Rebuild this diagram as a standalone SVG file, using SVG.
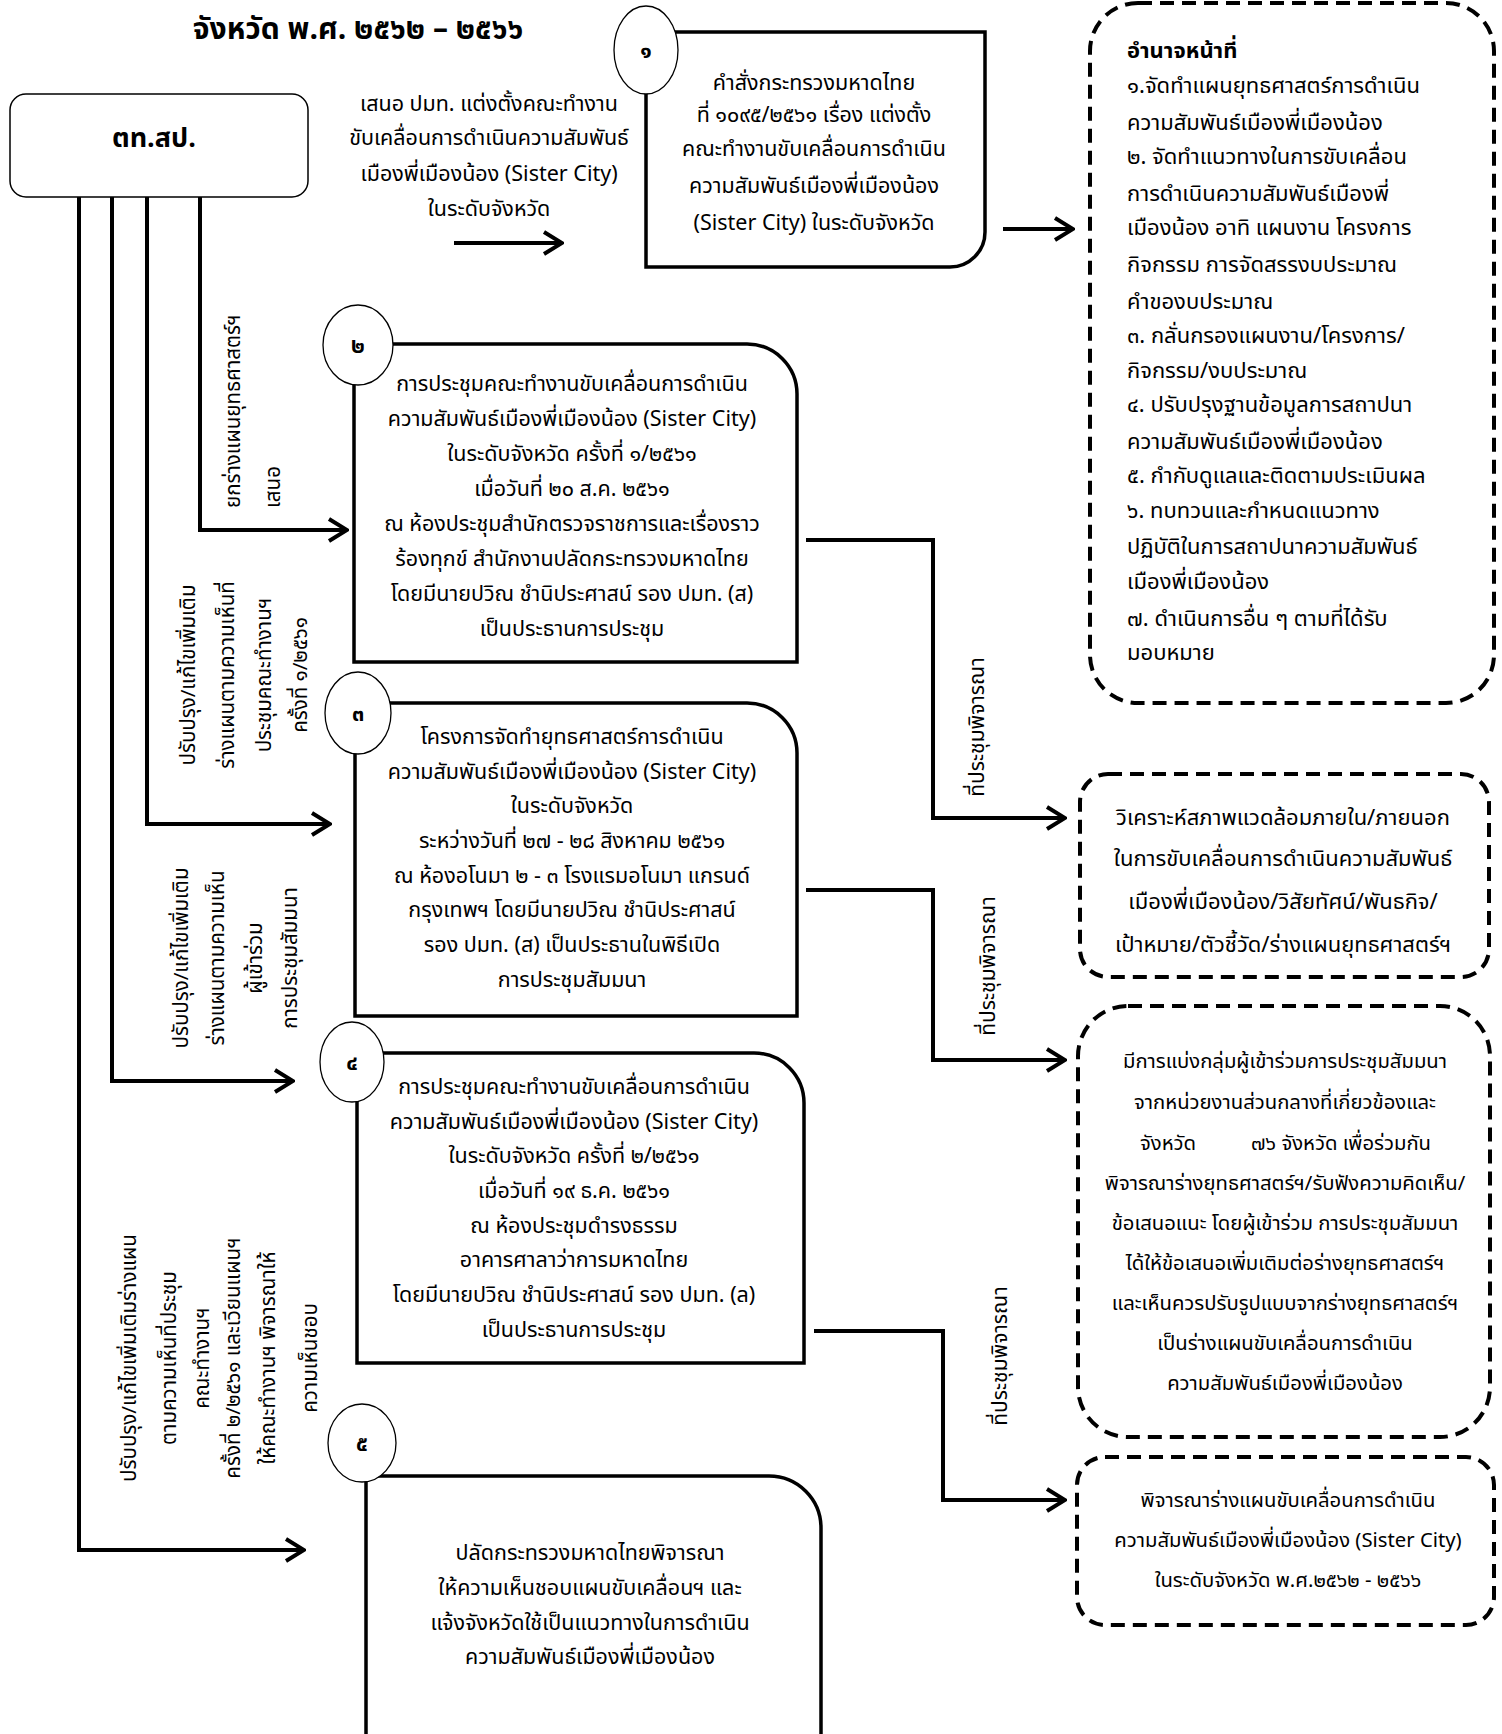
<svg xmlns="http://www.w3.org/2000/svg" width="1502" height="1734" viewBox="0 0 1502 1734">
<style>
.t{font-family:"Noto Sans Thai","Noto Sans","DejaVu Sans",sans-serif;font-size:21.5px;fill:#000}
.s{font-size:20.5px}
.r{font-size:22px}
.q{font-size:20.3px}
.c{text-anchor:middle}
.b{font-weight:bold}
.box{fill:#fff;stroke:#000;stroke-width:3.5}
.thin{fill:#fff;stroke:#000;stroke-width:1.5}
.dash{fill:#fff;stroke:#000;stroke-width:4;stroke-dasharray:14 8}
.circ{fill:#fff;stroke:#000;stroke-width:1.3}
.conn{fill:none;stroke:#000;stroke-width:4;marker-end:url(#ah)}
</style>
<defs>
<marker id="ah" viewBox="0 0 22 26" refX="20" refY="13" markerWidth="22" markerHeight="26" markerUnits="userSpaceOnUse" orient="auto">
<path d="M2,2 L20,13 L2,24" fill="none" stroke="#000" stroke-width="4"/>
</marker>
</defs>
<rect width="1502" height="1734" fill="#fff"/>

<text id="title" class="t b c" x="358" y="39" style="font-size:30px">จังหวัด พ.ศ. ๒๕๖๒ – ๒๕๖๖</text>

<g id="connectors">
<path class="conn" d="M454,243 H562"/>
<path class="conn" d="M1003,229 H1073"/>
<path class="conn" d="M200,197 V530 H347"/>
<path class="conn" d="M147,197 V824 H330"/>
<path class="conn" d="M112,197 V1081 H293"/>
<path class="conn" d="M79,197 V1550 H304"/>
<path class="conn" d="M806,540 H933 V818 H1065"/>
<path class="conn" d="M806,890 H933 V1060 H1065"/>
<path class="conn" d="M814,1331 H943 V1500 H1065"/>
</g>

<g id="labels">
<g class="t c">
<text x="489" y="111">เสนอ ปมท. แต่งตั้งคณะทำงาน</text>
<text x="489" y="145">ขับเคลื่อนการดำเนินความสัมพันธ์</text>
<text x="489" y="181">เมืองพี่เมืองน้อง (Sister City)</text>
<text x="489" y="216">ในระดับจังหวัด</text>
</g>
<g class="t s">
<text transform="translate(240,508) rotate(-90)">ยกร่างแผนยุทธศาสตร์ฯ</text>
<text transform="translate(280,508) rotate(-90)">เสนอ</text>
</g>
<g class="t s c">
<text transform="translate(195,675) rotate(-90)">ปรับปรุง/แก้ไขเพิ่มเติม</text>
<text transform="translate(234,675) rotate(-90)">ร่างแผนตามความเห็นที่</text>
<text transform="translate(271,675) rotate(-90)">ประชุมคณะทำงานฯ</text>
<text transform="translate(307,675) rotate(-90)">ครั้งที่ ๑/๒๕๖๑</text>
</g>
<g class="t s c">
<text transform="translate(188,958) rotate(-90)">ปรับปรุง/แก้ไขเพิ่มเติม</text>
<text transform="translate(224,958) rotate(-90)">ร่างแผนตามความเห็น</text>
<text transform="translate(262,958) rotate(-90)">ผู้เข้าร่วม</text>
<text transform="translate(297,958) rotate(-90)">การประชุมสัมมนา</text>
</g>
<g class="t s c">
<text transform="translate(136,1358) rotate(-90)">ปรับปรุง/แก้ไขเพิ่มเติมร่างแผน</text>
<text transform="translate(176,1358) rotate(-90)">ตามความเห็นที่ประชุม</text>
<text transform="translate(209,1358) rotate(-90)">คณะทำงานฯ</text>
<text transform="translate(240,1358) rotate(-90)">ครั้งที่ ๒/๒๕๖๑ และเวียนแผนฯ</text>
<text transform="translate(275,1358) rotate(-90)">ให้คณะทำงานฯ พิจารณาให้</text>
<text transform="translate(317,1358) rotate(-90)">ความเห็นชอบ</text>
</g>
<g class="t c" style="font-size:21px">
<text transform="translate(984,727) rotate(-90)">ที่ประชุมพิจารณา</text>
<text transform="translate(995,966) rotate(-90)">ที่ประชุมพิจารณา</text>
<text transform="translate(1007,1356) rotate(-90)">ที่ประชุมพิจารณา</text>
</g>
</g>

<g id="node-ttsp">
<rect class="thin" x="10" y="94" width="298" height="103" rx="16"/>
<text class="t b c" x="154" y="147" style="font-size:27px">ตท.สป.</text>
</g>

<g id="node-1">
<path class="box" d="M646,32 H985 V232 A35,35 0 0 1 950,267 H646 Z"/>
<ellipse class="circ" cx="646" cy="50" rx="32" ry="44"/>
<text class="t b c" x="646" y="58">๑</text>
<g class="t c">
<text x="814" y="90">คำสั่งกระทรวงมหาดไทย</text>
<text x="814" y="122">ที่ ๑๐๙๕/๒๕๖๑ เรื่อง แต่งตั้ง</text>
<text x="814" y="156">คณะทำงานขับเคลื่อนการดำเนิน</text>
<text x="814" y="193">ความสัมพันธ์เมืองพี่เมืองน้อง</text>
<text x="814" y="230">(Sister City) ในระดับจังหวัด</text>
</g>
</g>

<g id="node-duties">
<rect class="dash" x="1090" y="3" width="404" height="700" rx="48"/>
<g class="t r">
<text class="b" x="1127" y="58">อำนาจหน้าที่</text>
<text x="1127" y="93">๑.จัดทำแผนยุทธศาสตร์การดำเนิน</text>
<text x="1127" y="130">ความสัมพันธ์เมืองพี่เมืองน้อง</text>
<text x="1127" y="164">๒. จัดทำแนวทางในการขับเคลื่อน</text>
<text x="1127" y="201">การดำเนินความสัมพันธ์เมืองพี่</text>
<text x="1127" y="235">เมืองน้อง อาทิ แผนงาน โครงการ</text>
<text x="1127" y="272">กิจกรรม การจัดสรรงบประมาณ</text>
<text x="1127" y="309">คำของบประมาณ</text>
<text x="1127" y="343">๓. กลั่นกรองแผนงาน/โครงการ/</text>
<text x="1127" y="378">กิจกรรม/งบประมาณ</text>
<text x="1127" y="412">๔. ปรับปรุงฐานข้อมูลการสถาปนา</text>
<text x="1127" y="449">ความสัมพันธ์เมืองพี่เมืองน้อง</text>
<text x="1127" y="483">๕. กำกับดูแลและติดตามประเมินผล</text>
<text x="1127" y="518">๖. ทบทวนและกำหนดแนวทาง</text>
<text x="1127" y="554">ปฏิบัติในการสถาปนาความสัมพันธ์</text>
<text x="1127" y="589">เมืองพี่เมืองน้อง</text>
<text x="1127" y="626">๗. ดำเนินการอื่น ๆ ตามที่ได้รับ</text>
<text x="1127" y="660">มอบหมาย</text>
</g>
</g>

<g id="node-2">
<path class="box" d="M354,344 H747 A50,50 0 0 1 797,394 V662 H354 Z"/>
<ellipse class="circ" cx="358" cy="345" rx="35" ry="40"/>
<text class="t b c" x="358" y="353">๒</text>
<g class="t c">
<text x="572" y="391">การประชุมคณะทำงานขับเคลื่อนการดำเนิน</text>
<text x="572" y="426">ความสัมพันธ์เมืองพี่เมืองน้อง (Sister City)</text>
<text x="572" y="461">ในระดับจังหวัด ครั้งที่ ๑/๒๕๖๑</text>
<text x="572" y="496">เมื่อวันที่ ๒๐ ส.ค. ๒๕๖๑</text>
<text x="572" y="531">ณ ห้องประชุมสำนักตรวจราชการและเรื่องราว</text>
<text x="572" y="566">ร้องทุกข์ สำนักงานปลัดกระทรวงมหาดไทย</text>
<text x="572" y="601">โดยมีนายปวิณ ชำนิประศาสน์ รอง ปมท. (ส)</text>
<text x="572" y="636">เป็นประธานการประชุม</text>
</g>
</g>

<g id="node-3">
<path class="box" d="M355,703 H747 A50,50 0 0 1 797,753 V1016 H355 Z"/>
<ellipse class="circ" cx="358" cy="713" rx="33" ry="41"/>
<text class="t b c" x="358" y="721">๓</text>
<g class="t c">
<text x="572" y="744">โครงการจัดทำยุทธศาสตร์การดำเนิน</text>
<text x="572" y="779">ความสัมพันธ์เมืองพี่เมืองน้อง (Sister City)</text>
<text x="572" y="813">ในระดับจังหวัด</text>
<text x="572" y="848">ระหว่างวันที่ ๒๗ - ๒๘ สิงหาคม ๒๕๖๑</text>
<text x="572" y="883">ณ ห้องอโนมา ๒ - ๓ โรงแรมอโนมา แกรนด์</text>
<text x="572" y="917">กรุงเทพฯ โดยมีนายปวิณ ชำนิประศาสน์</text>
<text x="572" y="952">รอง ปมท. (ส) เป็นประธานในพิธีเปิด</text>
<text x="572" y="987">การประชุมสัมมนา</text>
</g>
</g>

<g id="node-4">
<path class="box" d="M357,1053 H754 A50,50 0 0 1 804,1103 V1363 H357 Z"/>
<ellipse class="circ" cx="352" cy="1062" rx="32" ry="40"/>
<text class="t b c" x="352" y="1070">๔</text>
<g class="t c">
<text x="574" y="1094">การประชุมคณะทำงานขับเคลื่อนการดำเนิน</text>
<text x="574" y="1129">ความสัมพันธ์เมืองพี่เมืองน้อง (Sister City)</text>
<text x="574" y="1163">ในระดับจังหวัด ครั้งที่ ๒/๒๕๖๑</text>
<text x="574" y="1198">เมื่อวันที่ ๑๙ ธ.ค. ๒๕๖๑</text>
<text x="574" y="1233">ณ ห้องประชุมดำรงธรรม</text>
<text x="574" y="1267">อาคารศาลาว่าการมหาดไทย</text>
<text x="574" y="1302">โดยมีนายปวิณ ชำนิประศาสน์ รอง ปมท. (ล)</text>
<text x="574" y="1337">เป็นประธานการประชุม</text>
</g>
</g>

<g id="node-5">
<path class="box" d="M366,1476 H769 A52,52 0 0 1 821,1528 V1745 H366 Z"/>
<ellipse class="circ" cx="362" cy="1443" rx="34" ry="39"/>
<text class="t b c" x="362" y="1451">๕</text>
<g class="t c">
<text x="590" y="1560">ปลัดกระทรวงมหาดไทยพิจารณา</text>
<text x="590" y="1595">ให้ความเห็นชอบแผนขับเคลื่อนฯ และ</text>
<text x="590" y="1630">แจ้งจังหวัดใช้เป็นแนวทางในการดำเนิน</text>
<text x="590" y="1664">ความสัมพันธ์เมืองพี่เมืองน้อง</text>
</g>
</g>

<g id="node-a">
<rect class="dash" x="1080" y="774" width="409" height="203" rx="28"/>
<g class="t r c">
<text x="1283" y="825">วิเคราะห์สภาพแวดล้อมภายใน/ภายนอก</text>
<text x="1283" y="866">ในการขับเคลื่อนการดำเนินความสัมพันธ์</text>
<text x="1283" y="909">เมืองพี่เมืองน้อง/วิสัยทัศน์/พันธกิจ/</text>
<text x="1283" y="952">เป้าหมาย/ตัวชี้วัด/ร่างแผนยุทธศาสตร์ฯ</text>
</g>
</g>

<g id="node-b">
<rect class="dash" x="1078" y="1006" width="412" height="431" rx="50"/>
<g class="t q c">
<text x="1285" y="1068">มีการแบ่งกลุ่มผู้เข้าร่วมการประชุมสัมมนา</text>
<text x="1285" y="1109">จากหน่วยงานส่วนกลางที่เกี่ยวข้องและ</text>
<text x="1168" y="1150">จังหวัด</text>
<text x="1341" y="1150">๗๖ จังหวัด เพื่อร่วมกัน</text>
<text x="1285" y="1190">พิจารณาร่างยุทธศาสตร์ฯ/รับฟังความคิดเห็น/</text>
<text x="1285" y="1230">ข้อเสนอแนะ โดยผู้เข้าร่วม การประชุมสัมมนา</text>
<text x="1285" y="1270">ได้ให้ข้อเสนอเพิ่มเติมต่อร่างยุทธศาสตร์ฯ</text>
<text x="1285" y="1310">และเห็นควรปรับรูปแบบจากร่างยุทธศาสตร์ฯ</text>
<text x="1285" y="1350">เป็นร่างแผนขับเคลื่อนการดำเนิน</text>
<text x="1285" y="1390">ความสัมพันธ์เมืองพี่เมืองน้อง</text>
</g>
</g>

<g id="node-c">
<rect class="dash" x="1077" y="1457" width="417" height="168" rx="28"/>
<g class="t q c">
<text x="1288" y="1507">พิจารณาร่างแผนขับเคลื่อนการดำเนิน</text>
<text x="1288" y="1547">ความสัมพันธ์เมืองพี่เมืองน้อง (Sister City)</text>
<text x="1288" y="1587">ในระดับจังหวัด พ.ศ.๒๕๖๒ - ๒๕๖๖</text>
</g>
</g>
</svg>
